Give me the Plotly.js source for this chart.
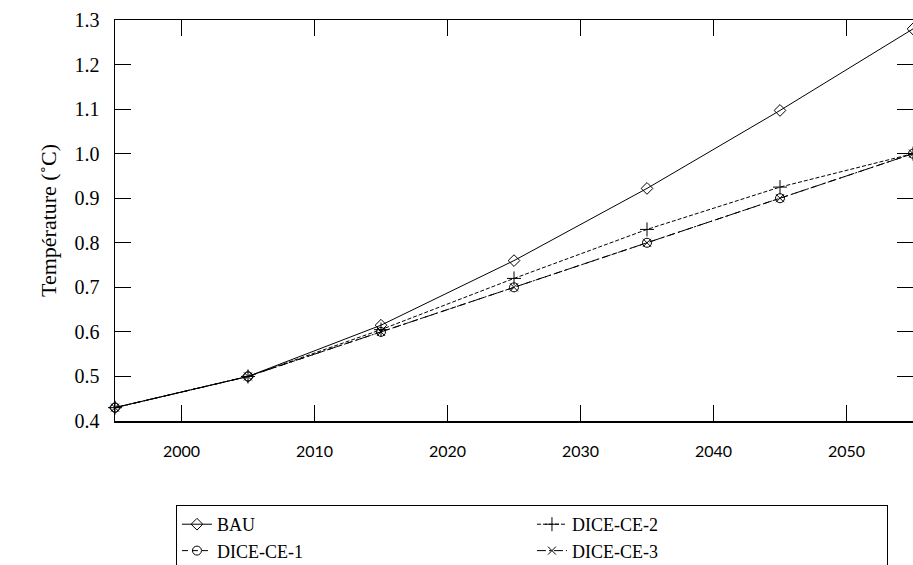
<!DOCTYPE html>
<html>
<head>
<meta charset="utf-8">
<script src="https://cdn.plot.ly/plotly-3.0.1.min.js"></script>
<style>html,body{margin:0;padding:0;background:#fff;}#chart{width:913px;height:565px;}</style>
</head>
<body>
<div id="chart"></div>
<script>
const years = [1995, 2005, 2015, 2025, 2035, 2045, 2055];
const bau = [0.43, 0.50, 0.615, 0.76, 0.922, 1.097, 1.28];
const diceCE1 = [0.43, 0.50, 0.60, 0.70, 0.80, 0.90, 1.00];
const diceCE2 = [0.43, 0.50, 0.605, 0.72, 0.83, 0.925, 1.00];
const diceCE3 = [0.43, 0.50, 0.60, 0.70, 0.80, 0.90, 1.00];
const seriesNames = ['BAU', 'DICE-CE-1', 'DICE-CE-2', 'DICE-CE-3'];
const yTitle = 'Température (˚C)';

const serif = 'Liberation Serif, DejaVu Serif, serif';
const mk = (name, y, dash, symbol, size, rank) => ({
  x: years, y: y, name: name, type: 'scatter', mode: 'lines+markers',
  line: {color: '#000', width: 1, dash: dash},
  marker: {symbol: symbol, size: size, color: '#000', line: {color: '#000', width: 1}},
  legendrank: rank, cliponaxis: false
});
const traces = [
  mk(seriesNames[0], bau, 'solid', 'diamond-open', 9, 1),
  mk(seriesNames[1], diceCE1, '6px,4px', 'circle-open', 9, 3),
  mk(seriesNames[2], diceCE2, '4px,2px', 'cross-thin-open', 10, 2),
  mk(seriesNames[3], diceCE3, '9px,3px,2px,3px', 'x-thin-open', 8, 4)
];
const layout = {
  width: 913, height: 565,
  margin: {l: 115, r: 0, t: 20, b: 144, autoexpand: false},
  paper_bgcolor: '#fff', plot_bgcolor: '#fff',
  showlegend: true,
  legend: {
    orientation: 'h', x: 0.0764, xanchor: 'left', y: -0.2095, yanchor: 'top',
    entrywidth: 310, entrywidthmode: 'pixels',
    bordercolor: '#000', borderwidth: 1, bgcolor: '#fff',
    font: {family: serif, size: 18, color: '#000'}, traceorder: 'normal'
  },
  xaxis: {
    range: [1995, 2055], tick0: 2000, dtick: 10, ticks: 'inside', ticklen: 16,
    tickcolor: '#000', tickwidth: 1, showline: true, linecolor: '#000', linewidth: 1.5,
    mirror: 'ticks', showgrid: false, zeroline: false,
    ticklabelstandoff: 15,
    tickfont: {family: 'Lato, DejaVu Sans, sans-serif', size: 16, color: '#000'}
  },
  yaxis: {
    range: [0.4, 1.3], tick0: 0.4, dtick: 0.1, tickformat: '.1f', ticks: 'inside', ticklen: 16,
    tickcolor: '#000', tickwidth: 1, showline: true, linecolor: '#000', linewidth: 1.5,
    mirror: 'ticks', showgrid: false, zeroline: false,
    ticklabelstandoff: 10,
    tickfont: {family: serif, size: 20, color: '#000'},
    title: {text: yTitle, font: {family: serif, size: 22, color: '#000'}, standoff: 12}
  }
};
Plotly.newPlot('chart', traces, layout, {displayModeBar: false, staticPlot: true});
</script>
</body>
</html>
